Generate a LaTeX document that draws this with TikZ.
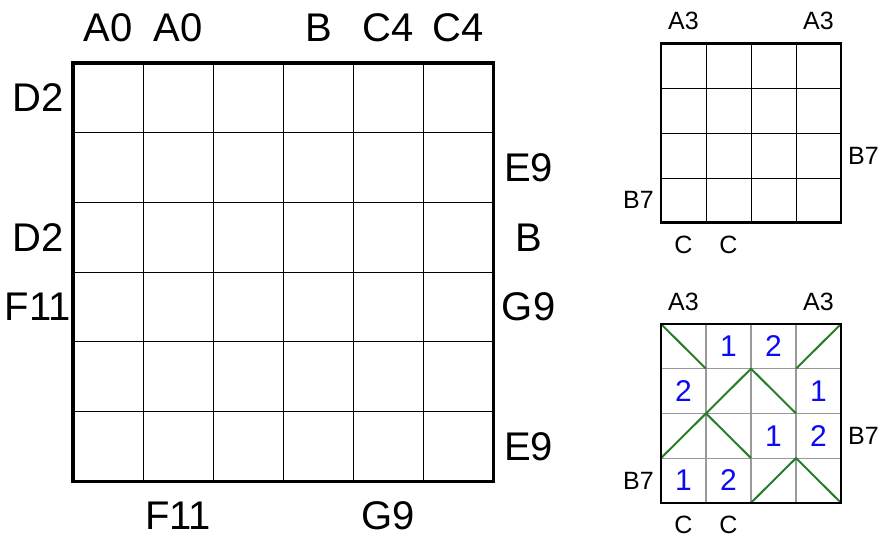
\documentclass[tikz,border=0pt]{standalone}
\usepackage{fontspec}
\setmainfont{Liberation Sans}
\definecolor{hintblue}{RGB}{10,10,245}
\definecolor{pathgreen}{RGB}{40,125,40}

\begin{document}
\begin{tikzpicture}[x=1pt, y=-1pt, every node/.style={inner sep=0pt},
	biglbl/.style={font=\fontsize{40}{48}\selectfont},
	smalllbl/.style={font=\fontsize{25}{30}\selectfont},
	digit/.style={font=\fontsize{30}{36}\selectfont, text=hintblue},
	frame/.style={line width=3.2pt, line cap=rect},
	thinframe/.style={line width=2.6pt, line cap=rect}]
	\useasboundingbox (0,0) rectangle (881,533);
	\begin{scope}[shift={(73,63)}, x=70.1pt, y=-69.7pt]
		\foreach \k in {1,...,5} {
			\draw[line width=0.9pt] (\k,0) -- (\k,6);
			\draw[line width=0.9pt] (0,\k) -- (6,\k);
		}
		\draw[frame] (0,0) rectangle (6,6);
		\foreach \cx/\cy/\txt [count=\i] in {0.5/-0.5/A0, 1.5/-0.5/A0, 3.5/-0.5/B, 4.5/-0.5/C4, 5.5/-0.5/C4,
			-0.5/0.5/D2, -0.5/2.5/D2, -0.5/3.5/F11,
			6.5/1.5/E9, 6.5/2.5/B, 6.5/3.5/G9, 6.5/5.5/E9,
			1.5/6.5/F11, 4.5/6.5/G9}
			\node[biglbl] (big\i) at (\cx,\cy) {\txt};
	\end{scope}
	\begin{scope}[shift={(661,43.5)}, x=45pt, y=-44.8pt]
		\foreach \k in {1,2,3} {
			\draw[line width=0.8pt] (\k,0) -- (\k,4);
			\draw[line width=0.8pt] (0,\k) -- (4,\k);
		}
		\draw[thinframe] (0,0) rectangle (4,4);
		\foreach \cx/\cy/\txt [count=\i] in {0.5/-0.5/A3, 3.5/-0.5/A3, 4.5/2.5/B7, -0.5/3.5/B7, 0.5/4.5/C, 1.5/4.5/C}
			\node[smalllbl] (top\i) at (\cx,\cy) {\txt};
	\end{scope}
	\begin{scope}[shift={(661,324)}, x=45pt, y=-44.7pt]
		\foreach \k in {1,2,3} {
			\draw[line width=1.1pt, gray!80] (\k,0) -- (\k,4);
			\draw[line width=1.1pt, gray!80] (0,\k) -- (4,\k);
		}
		\draw[line width=2pt, pathgreen, line join=round]
			(0,0) -- (1,1)
			(4,0) -- (3,1)
			(0,3) -- (1,2) -- (2,1) -- (3,2)
			(1,2) -- (2,3)
			(2,4) -- (3,3) -- (4,4);
		\draw[thinframe] (0,0) rectangle (4,4);
		\foreach \cx/\cy/\txt [count=\i] in {0.5/-0.5/A3, 3.5/-0.5/A3, 4.5/2.5/B7, -0.5/3.5/B7, 0.5/4.5/C, 1.5/4.5/C}
			\node[smalllbl] (bot\i) at (\cx,\cy) {\txt};
		\foreach \cx/\cy/\n [count=\i] in {1.5/0.5/1, 2.5/0.5/2, 0.5/1.5/2, 3.5/1.5/1, 2.5/2.5/1, 3.5/2.5/2, 0.5/3.5/1, 1.5/3.5/2}
			\node[digit] (num\i) at (\cx,\cy) {\n};
	\end{scope}
\end{tikzpicture}
\end{document}
